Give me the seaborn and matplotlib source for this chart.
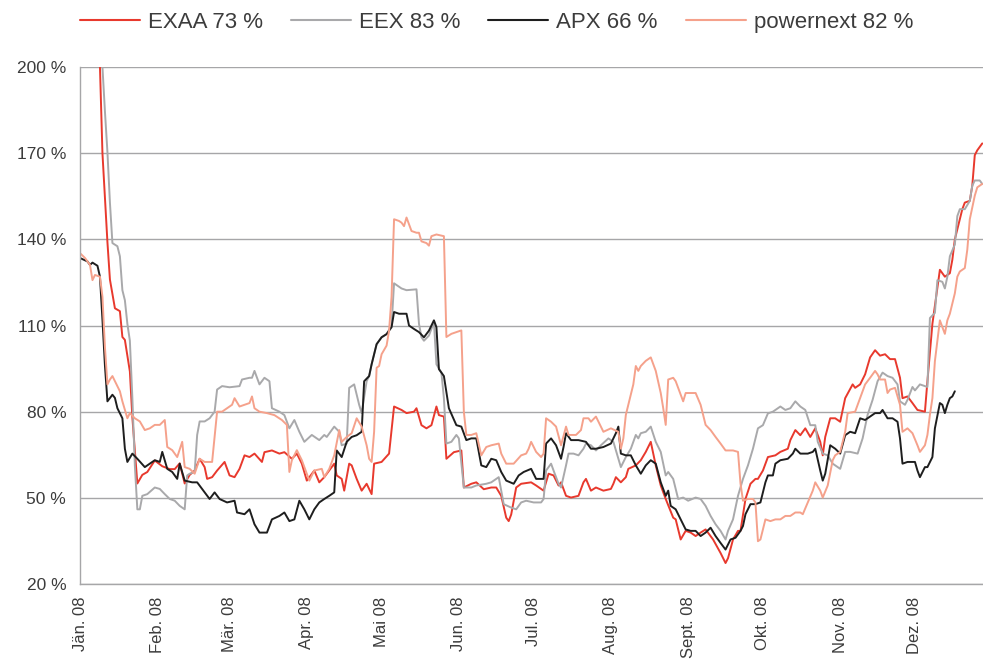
import numpy as np
import pandas as pd
import matplotlib
matplotlib.use("Agg")
import matplotlib.pyplot as plt
import matplotlib.transforms as mtransforms
from matplotlib.lines import Line2D
import seaborn as sns

# ---------------- data (day of year 2008, value in %) ----------------
exaa_day = [1, 8, 9, 11, 12, 14, 16, 17, 18, 20, 21, 23, 25, 27, 30, 33, 36, 38, 40, 42, 44, 46, 48, 50, 51, 53, 55, 58, 60, 62, 64, 66, 68, 70, 73, 74, 77, 80, 82, 85, 87, 89,
            91, 94, 96, 98, 101, 102, 103, 105, 106, 108, 109, 111, 113, 115, 117, 118, 121, 124, 126, 129, 131, 134, 135, 137, 139, 141, 143, 144, 146, 147, 150, 153, 154, 157, 159, 162, 165, 167, 169, 171, 172, 173, 175, 177, 181,
            183, 186, 188, 190, 192, 193, 195, 197, 200, 202, 203, 205, 207, 210, 213, 214, 215, 217, 219, 220, 223, 225, 227, 229, 231, 233, 235, 238, 239, 241, 243, 245, 247, 249, 251, 254, 257, 259, 260, 262, 264, 265, 267, 269, 271,
            272, 274, 276, 279, 281, 284, 285, 287, 289, 291, 293, 295, 297, 298, 299, 301, 303, 305, 307, 310, 311, 313, 315, 317, 319, 321, 323, 325, 327, 329, 330, 332, 334, 336, 339, 340, 342, 345, 347, 349, 350, 351, 353, 354, 355, 357, 358, 359, 360, 362]
exaa_val = [290, 200, 170, 139, 126, 116, 115, 106, 105, 94, 78, 55, 58, 59, 63, 61, 60, 60, 62, 55, 58, 59.5, 63.6, 60.7, 56.6, 57.2, 59.5, 62.5, 57.8, 57.2, 60.1, 64.8, 64.2, 65.4, 62.5, 65.9, 66.5, 65.4, 65.9, 63.6, 65.4, 61.9,
            56.0, 59.5, 55.4, 57.2, 60.7, 61.9, 57.8, 56.6, 52.5, 61.9, 61.3, 56.6, 52.5, 54.9, 51.3, 61.9, 62.5, 65.4, 81.8, 80.6, 79.5, 80.0, 81.2, 75.3, 74.2, 75.3, 81.8, 78.8, 78.3, 63.6, 65.9, 66.5, 53.6, 54.9, 55.4, 53.0, 53.6, 53.6, 50.7, 43.1, 41.9, 44.2, 53.6, 54.9, 55.4,
            54.3, 52.5, 58.4, 57.8, 54.3, 55.4, 50.7, 50.1, 50.7, 55.4, 56.6, 52.5, 53.6, 52.5, 53.1, 54.9, 57.2, 55.4, 57.2, 60.1, 61.3, 63.1, 66.0, 69.5, 61.3, 54.3, 49.6, 43.1, 42.5, 35.5, 38.5, 37.9, 36.7, 37.9, 39.0, 35.5, 30.8, 27.3, 29.0, 35.5, 38.5, 38.5, 49.6, 54.9, 56.6,
            56.6, 59.5, 64.2, 64.8, 66.0, 67.1, 70.1, 73.6, 71.8, 74.2, 71.2, 74.2, 69.5, 64.8, 71.2, 77.7, 77.7, 76.5, 84.7, 89.5, 88.3, 89.5, 93.0, 98.9, 101.4, 99.5, 100.0, 98.3, 98.3, 91.8, 84.7, 85.3, 83.0, 80.6, 80.0, 90.6, 110.6, 129.4, 127.0, 128.2, 132.9, 140.0, 147.0, 150.5, 152.8, 153.4, 158.7, 169.3, 171.0, 173.4]

eex_day = [1, 9, 10, 11, 12, 13, 15, 16, 17, 18, 19, 20, 21, 22, 23, 24, 25, 27, 30, 32, 34, 36, 38, 40, 42, 43, 44, 46, 47, 48, 50, 52, 54, 55, 57, 60, 64, 65, 68, 69, 70, 72, 74, 76, 77, 80, 82, 84, 86, 88, 90,
           93, 96, 98, 99, 102, 104, 105, 107, 108, 110, 112, 113, 115, 116, 117, 119, 121, 123, 125, 126, 129, 131, 135, 136, 137, 138, 140, 142, 143, 145, 146, 147, 149, 151, 152, 154, 157, 159, 163, 165, 168, 170, 173, 175, 177, 179, 182,
           185, 186, 187, 189, 190, 192, 193, 195, 196, 198, 200, 202, 203, 205, 207, 209, 212, 214, 216, 217, 219, 221, 223, 224, 225, 227, 229, 231, 233, 235, 236, 238, 240, 242, 244, 247, 249, 251, 253, 255, 257, 259, 260, 262, 264, 266, 268, 270, 272,
           274, 276, 278, 281, 283, 285, 287, 289, 291, 293, 295, 296, 298, 300, 302, 305, 307, 309, 312, 314, 316, 318, 320, 322, 324, 326, 328, 329, 331, 332, 334, 335, 337, 340, 341, 343, 344, 346, 347, 348, 349, 351, 352, 353, 355, 357, 358, 359, 361, 362]
eex_val = [330, 200, 184.5, 170.4, 152.8, 138.7, 137.6, 134.1, 122.3, 118.8, 110.6, 104.7, 84.8, 61.3, 46.0, 46.0, 50.7, 51.3, 53.6, 53.1, 51.3, 49.6, 49.0, 47.2, 46.0, 57.8, 58.4, 59.0, 71.9, 76.6, 76.6, 77.7, 80.0, 87.7, 88.9, 88.5, 88.9, 91.2, 91.8, 91.8, 94.2, 89.5, 91.8, 90.6, 81.2, 80.0, 78.8, 74.2, 77.1, 73.0, 69.5,
           71.9, 70.1, 71.9, 71.2, 74.8, 73.0, 68.3, 68.9, 88.3, 89.5, 82.4, 79.5, 90.6, 92.4, 96.5, 103.5, 105.9, 107.0, 110.0, 124.7, 122.9, 122.3, 122.6, 110.6, 105.9, 104.7, 106.5, 111.2, 96.5, 93.6, 84.7, 68.9, 69.5, 71.9, 70.7, 53.6, 53.6, 54.3, 54.9, 55.4, 57.2, 47.8, 46.6, 46.0, 48.4, 49.0, 48.4,
           48.4, 49.6, 59.5, 61.9, 59.5, 54.9, 53.6, 61.3, 65.4, 65.4, 64.8, 67.1, 68.9, 68.3, 66.5, 68.3, 70.7, 69.5, 63.6, 60.7, 64.2, 67.1, 71.9, 70.7, 72.5, 73.0, 74.8, 69.5, 66.0, 57.8, 59.0, 56.6, 49.6, 50.1, 49.0, 50.1, 49.6, 47.2, 43.7, 40.8, 38.5, 35.5, 38.5, 42.5, 50.7, 56.6, 61.3, 67.1, 74.2,
           75.3, 79.4, 80.0, 81.8, 80.6, 81.2, 83.6, 81.8, 80.6, 75.3, 75.3, 69.5, 65.4, 64.8, 61.9, 60.1, 66.0, 66.0, 65.4, 70.7, 78.9, 84.1, 90.6, 93.6, 92.4, 91.8, 89.5, 83.6, 82.4, 84.1, 88.6, 87.4, 89.5, 88.6, 112.6, 114.4, 125.8, 125.2, 122.9, 127.0, 134.1, 138.2, 148.1, 150.5, 150.5, 153.4, 158.7, 160.5, 160.5, 159.3]

apx_day = [0, 3, 4, 5, 7, 8, 9, 10, 11, 13, 14, 15, 17, 18, 19, 21, 23, 26, 28, 30, 32, 33, 35, 37, 39, 40, 42, 45, 47, 49, 52, 54, 56, 59, 62, 63, 66, 68, 70, 72, 75, 77, 80, 82, 84, 86, 88, 90,
           92, 94, 96, 98, 100, 102, 103, 105, 107, 109, 111, 113, 114, 116, 117, 119, 121, 123, 125, 126, 128, 131, 132, 134, 136, 138, 140, 142, 143, 144, 146, 148, 151, 153, 155, 157, 159, 161, 163, 165, 167, 169, 171, 174, 176, 178, 181,
           183, 186, 187, 189, 191, 193, 194, 195, 197, 200, 203, 205, 207, 210, 213, 215, 216, 217, 219, 221, 223, 225, 227, 229, 231, 233, 235, 236, 237, 239, 241, 243, 245, 247, 249, 251, 253, 255, 257, 259, 261, 263, 265, 266, 267, 269, 271, 273,
           275, 276, 278, 279, 281, 284, 286, 287, 289, 292, 294, 295, 297, 298, 299, 301, 303, 305, 307, 309, 311, 313, 315, 317, 319, 321, 322, 324, 326, 328, 329, 330, 332, 335, 336, 337, 339, 340, 342, 343, 345, 346, 347, 348, 349, 350, 351]
apx_val = [133.5, 132.3, 131.1, 131.9, 130.8, 127.0, 112.0, 96.0, 83.6, 85.9, 84.8, 81.2, 77.7, 67.1, 62.5, 65.4, 63.6, 60.7, 61.9, 63.1, 62.5, 66.0, 60.1, 59.0, 56.6, 61.9, 56.0, 55.4, 55.4, 53.1, 49.6, 51.9, 49.6, 48.4, 49.0, 44.9, 44.3, 46.0, 40.8, 37.9, 37.9, 42.5, 43.7, 44.9, 41.9, 42.5, 49.0, 46.0,
           42.5, 46.0, 48.4, 49.6, 50.7, 51.9, 66.5, 64.2, 69.5, 71.2, 71.8, 73.0, 90.6, 92.4, 96.5, 103.5, 105.9, 107.0, 109.4, 114.7, 114.1, 114.1, 110.0, 108.8, 107.7, 105.9, 108.2, 111.8, 109.4, 94.8, 92.4, 81.2, 75.3, 74.8, 70.1, 70.7, 70.7, 61.3, 60.7, 63.6, 63.1, 59.0, 56.0, 54.9, 57.8, 59.0, 60.1,
           56.6, 56.6, 68.9, 70.7, 68.3, 63.6, 67.7, 72.5, 70.1, 70.1, 69.5, 67.1, 67.1, 67.7, 68.9, 72.5, 74.8, 65.4, 64.8, 64.8, 61.3, 58.4, 61.3, 63.1, 61.9, 55.4, 50.7, 52.5, 47.2, 46.0, 42.5, 39.0, 38.5, 38.5, 36.7, 37.9, 39.6, 36.7, 34.3, 32.0, 35.5, 36.1, 38.5, 40.2, 44.3, 47.8, 47.8, 48.4,
           55.4, 57.8, 57.8, 61.9, 63.1, 63.6, 65.4, 67.1, 65.4, 65.4, 66.0, 67.1, 59.5, 56.0, 58.4, 68.3, 67.1, 65.4, 71.8, 73.0, 72.5, 77.7, 77.1, 78.3, 79.5, 79.5, 80.6, 77.7, 77.7, 76.5, 70.7, 61.9, 62.5, 62.5, 59.5, 57.2, 60.7, 60.7, 64.2, 74.2, 83.0, 82.4, 79.5, 82.4, 84.7, 85.3, 87.1]

pnx_day = [0, 2, 3, 4, 5, 6, 8, 9, 10, 11, 12, 13, 15, 16, 17, 19, 20, 22, 24, 26, 28, 30, 32, 34, 35, 37, 39, 41, 42, 44, 46, 48, 50, 53, 55, 57, 59, 61, 62, 64, 66, 68, 69, 70, 72, 75, 78, 81, 83, 84, 85, 87, 89,
           90, 92, 94, 97, 98, 100, 102, 104, 105, 107, 109, 111, 113, 115, 116, 117, 118, 119, 120, 121, 123, 124, 125, 126, 128, 129, 130, 131, 133, 135, 136, 137, 139, 140, 141, 143, 146, 147, 149, 151, 153, 154, 155, 157, 159, 161, 163, 165, 168, 169, 171, 174, 177, 179,
           180, 181, 183, 185, 186, 187, 189, 191, 193, 195, 196, 199, 201, 202, 204, 205, 207, 209, 210, 213, 216, 217, 218, 219, 221, 222, 223, 224, 225, 227, 229, 231, 233, 234, 235, 236, 238, 239, 241, 242, 243, 245, 247, 249, 251, 253, 255, 257, 259, 262, 264, 265, 266, 268, 270, 271,
           272, 273, 275, 277, 279, 281, 283, 285, 287, 289, 290, 292, 294, 295, 297, 298, 300, 302, 303, 305, 307, 308, 311, 313, 315, 317, 319, 320, 321, 323, 324, 325, 327, 329, 330, 332, 334, 336, 337, 339, 340, 341, 342, 343, 345, 346, 347, 348, 349, 351, 352, 353, 355, 356, 357, 359, 360, 362]
pnx_val = [135.2, 133.5, 132.3, 131.1, 125.8, 127.6, 127.0, 120.0, 102.4, 89.5, 91.2, 92.4, 88.9, 87.1, 83.6, 77.7, 79.5, 77.7, 76.6, 73.6, 74.2, 75.4, 75.4, 77.1, 67.7, 66.6, 64.2, 69.5, 60.7, 60.1, 58.4, 63.6, 62.5, 62.5, 80.0, 80.0, 81.2, 82.4, 84.7, 81.8, 82.4, 83.0, 85.3, 81.2, 80.0, 79.5, 78.8, 77.1, 75.4, 59.0, 63.1, 66.6, 63.1,
           60.7, 56.0, 59.5, 60.1, 57.2, 60.1, 64.8, 73.6, 69.5, 71.2, 72.5, 77.7, 74.8, 68.3, 63.6, 62.5, 73.0, 95.3, 95.9, 100.0, 103.0, 108.2, 120.0, 147.0, 146.4, 145.8, 144.6, 147.6, 142.9, 142.3, 142.3, 139.3, 138.7, 137.8, 141.1, 141.7, 141.1, 106.0, 107.1, 107.7, 108.3, 80.0, 71.9, 71.9, 72.5, 64.8, 67.7, 68.3, 68.9, 65.4, 61.9, 61.9, 64.8, 65.4,
           67.1, 69.5, 66.0, 64.2, 65.4, 77.7, 76.5, 74.8, 68.3, 74.8, 71.9, 71.9, 73.6, 77.7, 77.7, 76.5, 78.3, 74.8, 73.0, 74.2, 73.0, 67.1, 70.7, 78.9, 86.0, 89.5, 95.9, 94.2, 95.9, 97.7, 98.9, 94.2, 86.5, 81.2, 75.4, 91.2, 91.8, 90.6, 86.0, 83.6, 86.5, 86.5, 86.5, 82.4, 75.4, 73.6, 71.2, 68.9, 66.5, 66.5, 66.0, 55.0, 49.0, 49.6, 49.6, 48.4,
           34.9, 35.5, 42.5, 41.9, 42.5, 42.5, 43.7, 43.7, 44.9, 44.9, 44.3, 48.4, 52.5, 55.4, 52.5, 50.1, 54.3, 63.1, 64.8, 66.0, 73.0, 79.5, 80.0, 84.7, 89.5, 91.8, 94.2, 93.0, 91.2, 91.2, 86.5, 87.7, 88.3, 82.4, 73.0, 74.2, 72.5, 68.3, 66.0, 68.3, 71.9, 78.9, 84.7, 97.6, 111.8, 109.4, 107.1, 111.8, 114.1, 121.2, 127.0, 128.8, 130.0, 136.4, 147.0, 155.2, 158.1, 159.3]

series_names = ["EXAA 73 %", "EEX 83 %", "APX 66 %", "powernext 82 %"]
series_colors = ["#e8392d", "#a9a9ab", "#1e1e1e", "#f5a18b"]
month_labels = ["Jän. 08", "Feb. 08", "Mär. 08", "Apr. 08", "Mai 08", "Jun. 08",
                "Jul. 08", "Aug. 08", "Sept. 08", "Okt. 08", "Nov. 08", "Dez. 08"]
y_ticks = [20, 50, 80, 110, 140, 170, 200]

# ---------------- build long table ----------------
start = pd.Timestamp("2008-01-01")
frames = []
for name, d, v in zip(series_names,
                      [exaa_day, eex_day, apx_day, pnx_day],
                      [exaa_val, eex_val, apx_val, pnx_val]):
    frames.append(pd.DataFrame({
        "date": start + pd.to_timedelta(np.array(d), unit="D"),
        "value": v,
        "series": name,
    }))
df = pd.concat(frames, ignore_index=True)

# ---------------- plot ----------------
sns.set_theme(style="white")
plt.rcParams["font.family"] = ["Liberation Sans", "DejaVu Sans"]

fig = plt.figure(figsize=(9.83, 6.59), dpi=100)
ax = fig.add_axes([0.0814, 0.1138, 0.9186, 0.7845])

palette = dict(zip(series_names, series_colors))
sns.lineplot(data=df, x="date", y="value", hue="series", palette=palette,
             hue_order=series_names, estimator=None, sort=False,
             linewidth=1.4, legend=False, ax=ax)

text_color = "#3c3c3c"
grid_color = "#a6a6a8"
ax.set_ylim(20, 200)
ax.set_xlim(start, start + pd.Timedelta(days=362.3))
ax.set_yticks(y_ticks)
ax.set_yticklabels([f"{t} %" for t in y_ticks], fontsize=12.5, color=text_color)
month_starts = pd.date_range("2008-01-01", periods=12, freq="MS")
ax.set_xticks(month_starts)
ax.set_xticklabels(month_labels, rotation=90, fontsize=12, color=text_color,
                   va="top", ha="center")
offset = mtransforms.ScaledTranslation(4 / 100, 0, fig.dpi_scale_trans)
for lbl in ax.get_xticklabels():
    lbl.set_transform(lbl.get_transform() + offset)
ax.set_xlabel("")
ax.set_ylabel("")

ax.yaxis.grid(True, color=grid_color, linewidth=1.0)
ax.xaxis.grid(False)
ax.set_axisbelow(True)
for s in ["top", "right"]:
    ax.spines[s].set_visible(False)
for s in ["left", "bottom"]:
    ax.spines[s].set_color(grid_color)
    ax.spines[s].set_linewidth(1.0)
ax.tick_params(axis="both", which="major", length=5, width=1.0,
               color=grid_color, direction="out")
ax.tick_params(axis="y", pad=5)
ax.tick_params(axis="x", pad=4)

handles = [Line2D([0], [0], color=c, linewidth=1.5) for c in series_colors]
fig.legend(handles, series_names, loc="upper center", ncol=4,
           bbox_to_anchor=(0.505, 1.012), frameon=False,
           prop={"family": ["Liberation Sans", "DejaVu Sans"], "size": 16},
           handlelength=2.7, handletextpad=0.36, columnspacing=1.26,
           labelcolor=text_color)

fig.savefig("out.png", dpi=100)
